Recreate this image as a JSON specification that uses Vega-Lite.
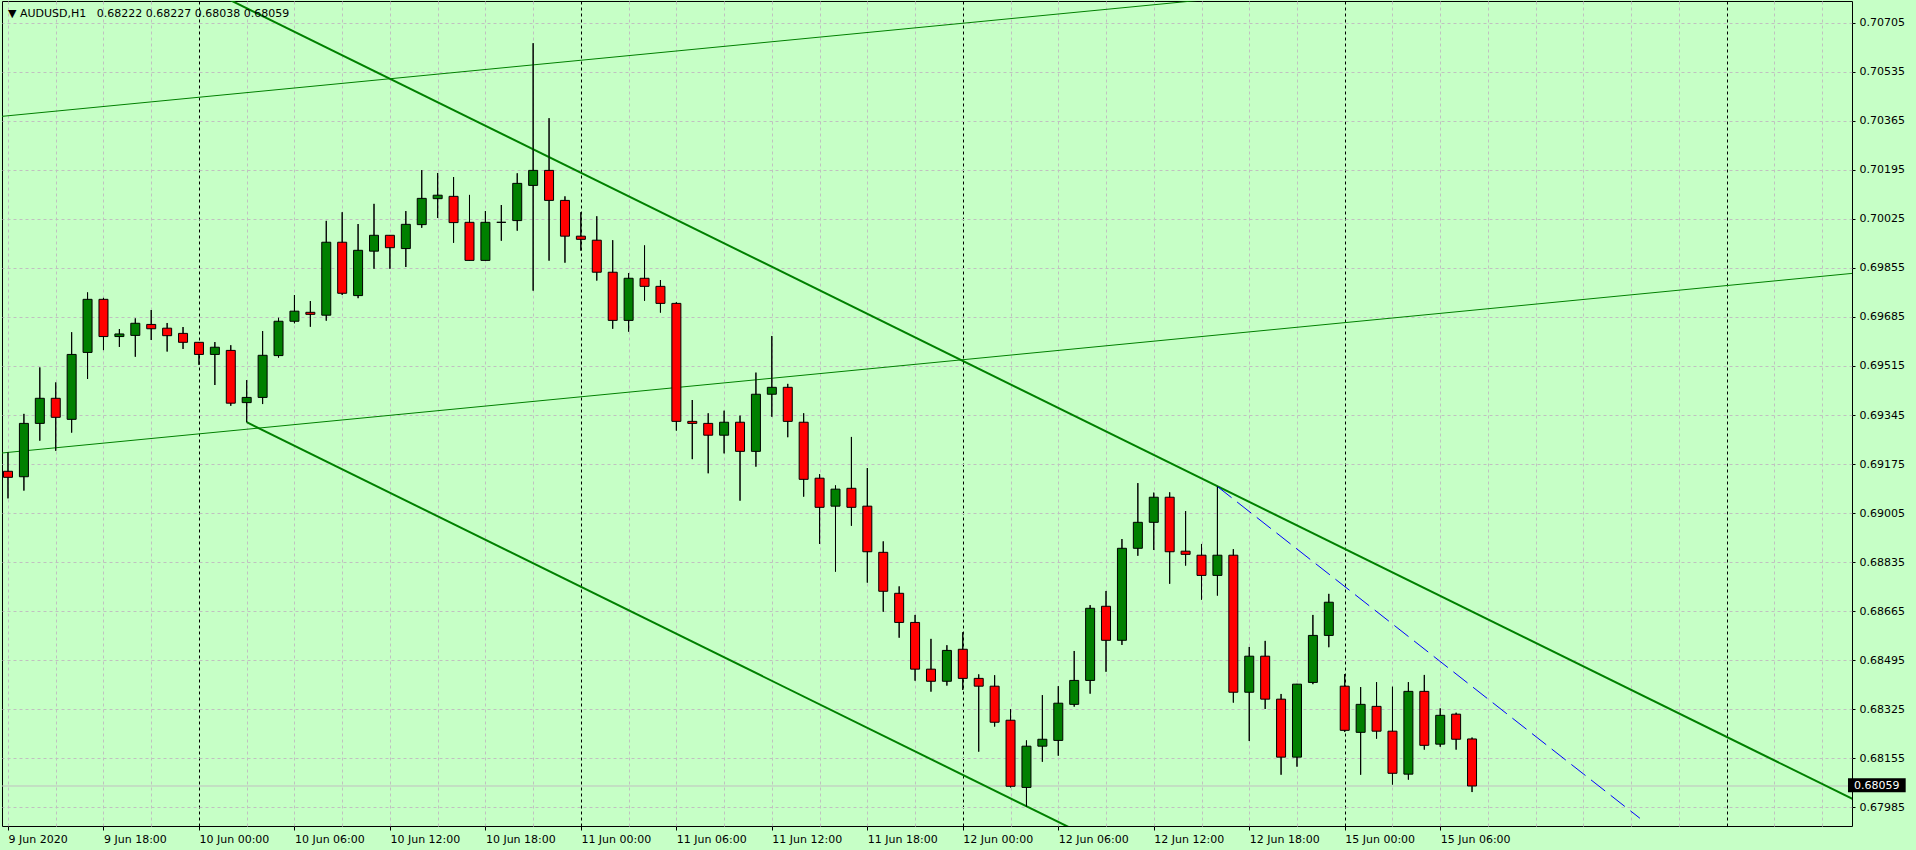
{
  "$schema": "https://vega.github.io/schema/vega-lite/v6.json",
  "width": 1850,
  "height": 825,
  "autosize": {"type": "none"},
  "padding": {"left": 2, "top": 1, "right": 64, "bottom": 24},
  "background": "#C6FFC6",
  "config": {
    "font": "DejaVu Sans",
    "view": {"stroke": "black", "strokeWidth": 1, "fill": "#C6FFC6"}
  },
  "title": {
    "text": "▼ AUDUSD,H1\u00a0\u00a0\u00a00.68222 0.68227 0.68038 0.68059",
    "orient": "top",
    "anchor": "start",
    "frame": "group",
    "baseline": "alphabetic",
    "offset": 0,
    "dy": 27,
    "dx": 6,
    "font": "DejaVu Sans",
    "fontSize": 11,
    "fontWeight": "normal",
    "color": "black"
  },
  "datasets": {
    "candles": [
      {"i":0,"open":0.69150,"high":0.69216,"low":0.69056,"close":0.69129},
      {"i":1,"open":0.69131,"high":0.69349,"low":0.69083,"close":0.69316},
      {"i":2,"open":0.69316,"high":0.69510,"low":0.69256,"close":0.69403},
      {"i":3,"open":0.69403,"high":0.69458,"low":0.69221,"close":0.69337},
      {"i":4,"open":0.69330,"high":0.69632,"low":0.69284,"close":0.69555},
      {"i":5,"open":0.69562,"high":0.69770,"low":0.69470,"close":0.69746},
      {"i":6,"open":0.69746,"high":0.69751,"low":0.69570,"close":0.69617},
      {"i":7,"open":0.69617,"high":0.69643,"low":0.69581,"close":0.69626},
      {"i":8,"open":0.69621,"high":0.69680,"low":0.69547,"close":0.69663},
      {"i":9,"open":0.69659,"high":0.69709,"low":0.69605,"close":0.69644},
      {"i":10,"open":0.69646,"high":0.69664,"low":0.69565,"close":0.69620},
      {"i":11,"open":0.69628,"high":0.69650,"low":0.69574,"close":0.69597},
      {"i":12,"open":0.69597,"high":0.69598,"low":0.69519,"close":0.69555},
      {"i":13,"open":0.69555,"high":0.69598,"low":0.69449,"close":0.69580},
      {"i":14,"open":0.69569,"high":0.69587,"low":0.69377,"close":0.69386},
      {"i":15,"open":0.69388,"high":0.69466,"low":0.69320,"close":0.69406},
      {"i":16,"open":0.69406,"high":0.69636,"low":0.69383,"close":0.69552},
      {"i":17,"open":0.69551,"high":0.69682,"low":0.69544,"close":0.69670},
      {"i":18,"open":0.69670,"high":0.69761,"low":0.69663,"close":0.69705},
      {"i":19,"open":0.69701,"high":0.69740,"low":0.69651,"close":0.69694},
      {"i":20,"open":0.69691,"high":0.70018,"low":0.69672,"close":0.69944},
      {"i":21,"open":0.69944,"high":0.70048,"low":0.69761,"close":0.69767},
      {"i":22,"open":0.69759,"high":0.70007,"low":0.69750,"close":0.69916},
      {"i":23,"open":0.69913,"high":0.70077,"low":0.69852,"close":0.69968},
      {"i":24,"open":0.69968,"high":0.69968,"low":0.69852,"close":0.69925},
      {"i":25,"open":0.69922,"high":0.70052,"low":0.69858,"close":0.70006},
      {"i":26,"open":0.70005,"high":0.70194,"low":0.69994,"close":0.70096},
      {"i":27,"open":0.70095,"high":0.70184,"low":0.70028,"close":0.70107},
      {"i":28,"open":0.70103,"high":0.70170,"low":0.69942,"close":0.70012},
      {"i":29,"open":0.70013,"high":0.70108,"low":0.69881,"close":0.69881},
      {"i":30,"open":0.69881,"high":0.70052,"low":0.69881,"close":0.70013},
      {"i":31,"open":0.70013,"high":0.70073,"low":0.69949,"close":0.70013},
      {"i":32,"open":0.70019,"high":0.70183,"low":0.69984,"close":0.70148},
      {"i":33,"open":0.70141,"high":0.70634,"low":0.69776,"close":0.70193},
      {"i":34,"open":0.70193,"high":0.70374,"low":0.69880,"close":0.70089},
      {"i":35,"open":0.70089,"high":0.70103,"low":0.69873,"close":0.69965},
      {"i":36,"open":0.69965,"high":0.70048,"low":0.69915,"close":0.69954},
      {"i":37,"open":0.69951,"high":0.70034,"low":0.69811,"close":0.69840},
      {"i":38,"open":0.69840,"high":0.69951,"low":0.69644,"close":0.69673},
      {"i":39,"open":0.69673,"high":0.69837,"low":0.69634,"close":0.69819},
      {"i":40,"open":0.69819,"high":0.69933,"low":0.69741,"close":0.69791},
      {"i":41,"open":0.69791,"high":0.69813,"low":0.69700,"close":0.69732},
      {"i":42,"open":0.69732,"high":0.69736,"low":0.69291,"close":0.69323},
      {"i":43,"open":0.69323,"high":0.69397,"low":0.69192,"close":0.69316},
      {"i":44,"open":0.69316,"high":0.69351,"low":0.69143,"close":0.69275},
      {"i":45,"open":0.69275,"high":0.69360,"low":0.69212,"close":0.69320},
      {"i":46,"open":0.69320,"high":0.69343,"low":0.69048,"close":0.69219},
      {"i":47,"open":0.69219,"high":0.69492,"low":0.69166,"close":0.69417},
      {"i":48,"open":0.69417,"high":0.69619,"low":0.69339,"close":0.69441},
      {"i":49,"open":0.69441,"high":0.69453,"low":0.69268,"close":0.69323},
      {"i":50,"open":0.69320,"high":0.69351,"low":0.69062,"close":0.69122},
      {"i":51,"open":0.69126,"high":0.69140,"low":0.68898,"close":0.69025},
      {"i":52,"open":0.69029,"high":0.69101,"low":0.68802,"close":0.69088},
      {"i":53,"open":0.69091,"high":0.69269,"low":0.68961,"close":0.69025},
      {"i":54,"open":0.69029,"high":0.69161,"low":0.68764,"close":0.68871},
      {"i":55,"open":0.68869,"high":0.68907,"low":0.68663,"close":0.68734},
      {"i":56,"open":0.68727,"high":0.68751,"low":0.68573,"close":0.68626},
      {"i":57,"open":0.68626,"high":0.68652,"low":0.68424,"close":0.68464},
      {"i":58,"open":0.68464,"high":0.68569,"low":0.68386,"close":0.68422},
      {"i":59,"open":0.68422,"high":0.68547,"low":0.68407,"close":0.68529},
      {"i":60,"open":0.68533,"high":0.68592,"low":0.68392,"close":0.68432},
      {"i":61,"open":0.68432,"high":0.68446,"low":0.68178,"close":0.68405},
      {"i":62,"open":0.68405,"high":0.68443,"low":0.68265,"close":0.68280},
      {"i":63,"open":0.68287,"high":0.68325,"low":0.68054,"close":0.68058},
      {"i":64,"open":0.68054,"high":0.68217,"low":0.67987,"close":0.68197},
      {"i":65,"open":0.68197,"high":0.68374,"low":0.68143,"close":0.68221},
      {"i":66,"open":0.68217,"high":0.68405,"low":0.68164,"close":0.68346},
      {"i":67,"open":0.68342,"high":0.68527,"low":0.68334,"close":0.68425},
      {"i":68,"open":0.68425,"high":0.68686,"low":0.68379,"close":0.68675},
      {"i":69,"open":0.68682,"high":0.68735,"low":0.68455,"close":0.68564},
      {"i":70,"open":0.68564,"high":0.68915,"low":0.68548,"close":0.68883},
      {"i":71,"open":0.68883,"high":0.69109,"low":0.68857,"close":0.68973},
      {"i":72,"open":0.68973,"high":0.69076,"low":0.68877,"close":0.69060},
      {"i":73,"open":0.69060,"high":0.69077,"low":0.68760,"close":0.68871},
      {"i":74,"open":0.68873,"high":0.69012,"low":0.68823,"close":0.68862},
      {"i":75,"open":0.68859,"high":0.68898,"low":0.68705,"close":0.68789},
      {"i":76,"open":0.68789,"high":0.69097,"low":0.68719,"close":0.68859},
      {"i":77,"open":0.68859,"high":0.68880,"low":0.68348,"close":0.68384},
      {"i":78,"open":0.68384,"high":0.68541,"low":0.68215,"close":0.68509},
      {"i":79,"open":0.68509,"high":0.68562,"low":0.68326,"close":0.68360},
      {"i":80,"open":0.68360,"high":0.68378,"low":0.68098,"close":0.68159},
      {"i":81,"open":0.68159,"high":0.68413,"low":0.68126,"close":0.68412},
      {"i":82,"open":0.68418,"high":0.68652,"low":0.68412,"close":0.68581},
      {"i":83,"open":0.68581,"high":0.68725,"low":0.68540,"close":0.68696},
      {"i":84,"open":0.68405,"high":0.68447,"low":0.68246,"close":0.68252},
      {"i":85,"open":0.68245,"high":0.68402,"low":0.68098,"close":0.68342},
      {"i":86,"open":0.68335,"high":0.68419,"low":0.68223,"close":0.68249},
      {"i":87,"open":0.68249,"high":0.68403,"low":0.68064,"close":0.68103},
      {"i":88,"open":0.68100,"high":0.68419,"low":0.68081,"close":0.68387},
      {"i":89,"open":0.68387,"high":0.68444,"low":0.68185,"close":0.68200},
      {"i":90,"open":0.68204,"high":0.68328,"low":0.68195,"close":0.68304},
      {"i":91,"open":0.68308,"high":0.68313,"low":0.68185,"close":0.68221},
      {"i":92,"open":0.68222,"high":0.68227,"low":0.68038,"close":0.68059}
    ],
    "lines": [
      {"line":"channel_top","i":-1,"p":0.70377},
      {"line":"channel_top","i":80,"p":0.70810},
      {"line":"channel_mid","i":-1,"p":0.69210},
      {"line":"channel_mid","i":120,"p":0.69858},
      {"line":"down_top","i":10,"p":0.70891},
      {"line":"down_top","i":120,"p":0.67903},
      {"line":"down_bottom","i":15,"p":0.69320},
      {"line":"down_bottom","i":75,"p":0.67690},
      {"line":"blue","i":76,"p":0.69097},
      {"line":"blue","i":102.55,"p":0.67947}
    ],
    "bid": [{"price": 0.68059}]
  },
  "layer": [
    {
      "data": {"name": "candles"},
      "mark": {"type": "rule", "color": "black", "strokeWidth": 1, "clip": true},
      "encoding": {
        "x": {
          "field": "i", "type": "quantitative", "title": null,
          "scale": {"domain": [-0.0625, 115.5625], "nice": false, "zero": false},
          "axis": {
            "orient": "bottom",
            "title": null,
            "values": [0,3,6,9,12,15,18,21,24,27,30,33,36,39,42,45,48,51,54,57,60,63,66,69,72,75,78,81,84,87,90,93,96,99,102,105,108,111,114],
            "labelExpr": "(datum.value % 6 == 0 && datum.value <= 90) ? ['9 Jun 2020','9 Jun 18:00','10 Jun 00:00','10 Jun 06:00','10 Jun 12:00','10 Jun 18:00','11 Jun 00:00','11 Jun 06:00','11 Jun 12:00','11 Jun 18:00','12 Jun 00:00','12 Jun 06:00','12 Jun 12:00','12 Jun 18:00','15 Jun 00:00','15 Jun 06:00'][datum.value / 6] : ''",
            "labelAlign": "left",
            "labelBaseline": "top",
            "labelPadding": 3,
            "labelFont": "DejaVu Sans",
            "labelFontSize": 11,
            "labelColor": "black",
            "labelOverlap": false,
            "labelBound": false,
            "labelFlush": false,
            "tickSize": 4,
            "tickColor": "black",
            "tickOpacity": {"condition": {"test": "datum.value % 6 == 0 && datum.value <= 90", "value": 1}, "value": 0},
            "domain": false,
            "grid": true,
            "gridColor": {"condition": {"test": "datum.value % 24 == 12", "value": "black"}, "value": "#C0C0C0"},
            "gridDash": [3, 3],
            "gridWidth": 1
          }
        },
        "y": {
          "field": "low", "type": "quantitative", "title": null,
          "scale": {"domain": [0.679203, 0.707802], "nice": false, "zero": false},
          "axis": {
            "orient": "right",
            "title": null,
            "values": [0.67985,0.68155,0.68325,0.68495,0.68665,0.68835,0.69005,0.69175,0.69345,0.69515,0.69685,0.69855,0.70025,0.70195,0.70365,0.70535,0.70705],
            "format": ".5f",
            "labelFont": "DejaVu Sans",
            "labelFontSize": 11,
            "labelColor": "black",
            "labelAlign": "left",
            "labelBaseline": "middle",
            "labelPadding": 4,
            "labelOverlap": false,
            "labelBound": false,
            "tickSize": 3,
            "tickColor": "black",
            "domain": false,
            "grid": true,
            "gridColor": "#C0C0C0",
            "gridDash": [3, 3],
            "gridWidth": 1
          }
        },
        "y2": {"field": "high"}
      }
    },
    {
      "data": {"name": "bid"},
      "mark": {"type": "rule", "color": "#C0C0C0", "strokeWidth": 1},
      "encoding": {
        "y": {"field": "price", "type": "quantitative", "title": null, "scale": {"domain": [0.679203, 0.707802], "nice": false, "zero": false}}
      }
    },
    {
      "data": {"name": "lines"},
      "transform": [{"filter": "datum.line == 'channel_top' || datum.line == 'channel_mid'"}],
      "mark": {"type": "line", "color": "#008000", "strokeWidth": 1, "clip": true},
      "encoding": {
        "x": {"field": "i", "type": "quantitative", "title": null, "scale": {"domain": [-0.0625, 115.5625], "nice": false, "zero": false}},
        "y": {"field": "p", "type": "quantitative", "title": null, "scale": {"domain": [0.679203, 0.707802], "nice": false, "zero": false}},
        "detail": {"field": "line"}
      }
    },
    {
      "data": {"name": "lines"},
      "transform": [{"filter": "datum.line == 'down_top' || datum.line == 'down_bottom'"}],
      "mark": {"type": "line", "color": "#008000", "strokeWidth": 2, "clip": true},
      "encoding": {
        "x": {"field": "i", "type": "quantitative", "title": null, "scale": {"domain": [-0.0625, 115.5625], "nice": false, "zero": false}},
        "y": {"field": "p", "type": "quantitative", "title": null, "scale": {"domain": [0.679203, 0.707802], "nice": false, "zero": false}},
        "detail": {"field": "line"}
      }
    },
    {
      "data": {"name": "lines"},
      "transform": [{"filter": "datum.line == 'blue'"}],
      "mark": {"type": "line", "color": "#0000FF", "strokeWidth": 1, "strokeDash": [18, 7], "clip": true},
      "encoding": {
        "x": {"field": "i", "type": "quantitative", "title": null, "scale": {"domain": [-0.0625, 115.5625], "nice": false, "zero": false}},
        "y": {"field": "p", "type": "quantitative", "title": null, "scale": {"domain": [0.679203, 0.707802], "nice": false, "zero": false}}
      }
    },
    {
      "data": {"name": "candles"},
      "mark": {"type": "rule", "color": "black", "strokeWidth": 1, "clip": true},
      "encoding": {
        "x": {"field": "i", "type": "quantitative", "title": null, "scale": {"domain": [-0.0625, 115.5625], "nice": false, "zero": false}},
        "y": {"field": "low", "type": "quantitative", "title": null, "scale": {"domain": [0.679203, 0.707802], "nice": false, "zero": false}},
        "y2": {"field": "high"}
      }
    },
    {
      "data": {"name": "candles"},
      "mark": {"type": "bar", "size": 9, "stroke": "black", "strokeWidth": 1, "clip": true},
      "encoding": {
        "x": {"field": "i", "type": "quantitative", "title": null, "scale": {"domain": [-0.0625, 115.5625], "nice": false, "zero": false}},
        "y": {"field": "open", "type": "quantitative", "title": null, "scale": {"domain": [0.679203, 0.707802], "nice": false, "zero": false}},
        "y2": {"field": "close"},
        "fill": {"condition": {"test": "datum.close >= datum.open", "value": "#008000"}, "value": "#FF0000"}
      }
    },
    {
      "data": {"name": "bid"},
      "mark": {"type": "rect", "color": "black", "clip": false},
      "encoding": {
        "x": {"datum": 115.625, "type": "quantitative", "title": null, "scale": {"domain": [-0.0625, 115.5625], "nice": false, "zero": false}},
        "x2": {"datum": 119.25},
        "y": {"datum": 0.680856, "type": "quantitative", "title": null, "scale": {"domain": [0.679203, 0.707802], "nice": false, "zero": false}},
        "y2": {"datum": 0.680371}
      }
    },
    {
      "data": {"name": "bid"},
      "mark": {"type": "text", "color": "white", "font": "DejaVu Sans", "fontSize": 11, "align": "left", "baseline": "middle", "clip": false},
      "encoding": {
        "x": {"datum": 116.0, "type": "quantitative", "title": null, "scale": {"domain": [-0.0625, 115.5625], "nice": false, "zero": false}},
        "y": {"field": "price", "type": "quantitative", "title": null, "scale": {"domain": [0.679203, 0.707802], "nice": false, "zero": false}},
        "text": {"field": "price", "type": "quantitative", "format": ".5f"}
      }
    }
  ]
}
